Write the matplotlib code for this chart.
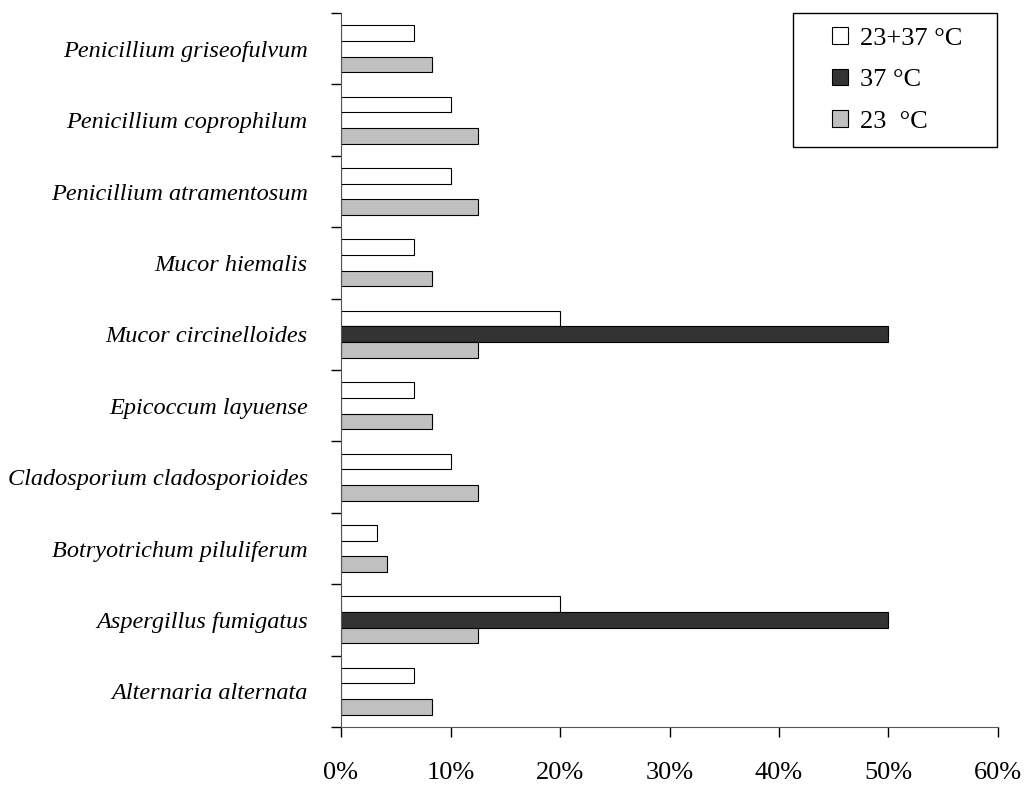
import numpy as np
import matplotlib.pyplot as plt
from matplotlib.patches import Rectangle
from matplotlib.ticker import FuncFormatter

# species, bottom to top
species = ['Alternaria alternata', 'Aspergillus fumigatus', 'Botryotrichum piluliferum',
           'Cladosporium cladosporioides', 'Epicoccum layuense', 'Mucor circinelloides',
           'Mucor hiemalis', 'Penicillium atramentosum', 'Penicillium coprophilum',
           'Penicillium griseofulvum']
# percentages
both = [6.7, 20.0, 3.3, 10.0, 6.7, 20.0, 6.7, 10.0, 10.0, 6.7]   # 23+37 C
t37 = [0, 50.0, 0, 0, 0, 50.0, 0, 0, 0, 0]                        # 37 C
t23 = [8.3, 12.5, 4.2, 12.5, 8.3, 12.5, 8.3, 12.5, 12.5, 8.3]     # 23 C
xticks = [0, 10, 20, 30, 40, 50, 60]

plt.rcParams['font.family'] = ['Liberation Serif', 'DejaVu Serif']

fig = plt.figure(figsize=(10.27, 7.85), dpi=100)
ax = fig.add_axes([341/1027, 1 - 727/785, (998-341)/1027, (727-13)/785])

y = np.arange(len(species))
h = 0.22
kw = dict(height=h, edgecolor='black', linewidth=0.8)
ax.barh(y + h, both, color='white', label='23+37 °C', **kw)
ax.barh(y, t37, color='#333333', label='37 °C', **kw)
ax.barh(y - h, t23, color='#c0c0c0', label='23  °C', **kw)

ax.set_xlim(0, 60)
ax.set_ylim(-0.5, len(species) - 0.5)
ax.set_xticks(xticks)
ax.xaxis.set_major_formatter(FuncFormatter(lambda v, p: '%d%%' % v))
ax.set_yticks(y)
ax.set_yticklabels(species, fontstyle='italic')
ax.set_yticks(np.arange(len(species) + 1) - 0.5, minor=True)
ax.tick_params(axis='y', which='major', length=0, pad=24, labelsize=17.5)
ax.tick_params(axis='y', which='minor', length=7, direction='out', width=1)
ax.tick_params(axis='x', length=7, direction='out', width=1, pad=18, labelsize=19)

for s in ['top', 'right']:
    ax.spines[s].set_visible(False)
for s in ['left', 'bottom']:
    ax.spines[s].set_color('#555555')

# legend box drawn separately for the wide side margins
fig.patches.append(Rectangle((793/1027, 1 - 147/785), 204/1027, 134/785,
                             transform=fig.transFigure, facecolor='white',
                             edgecolor='black', linewidth=1, zorder=5))
leg = fig.legend(loc='upper left', bbox_to_anchor=(832/1027, 1 - 27/785), fontsize=19,
                 frameon=False, borderpad=0, labelspacing=0.72, handlelength=0.6,
                 handleheight=0.6, handletextpad=0.45, borderaxespad=0)
leg.set_zorder(6)

fig.savefig('out.png', dpi=100)
